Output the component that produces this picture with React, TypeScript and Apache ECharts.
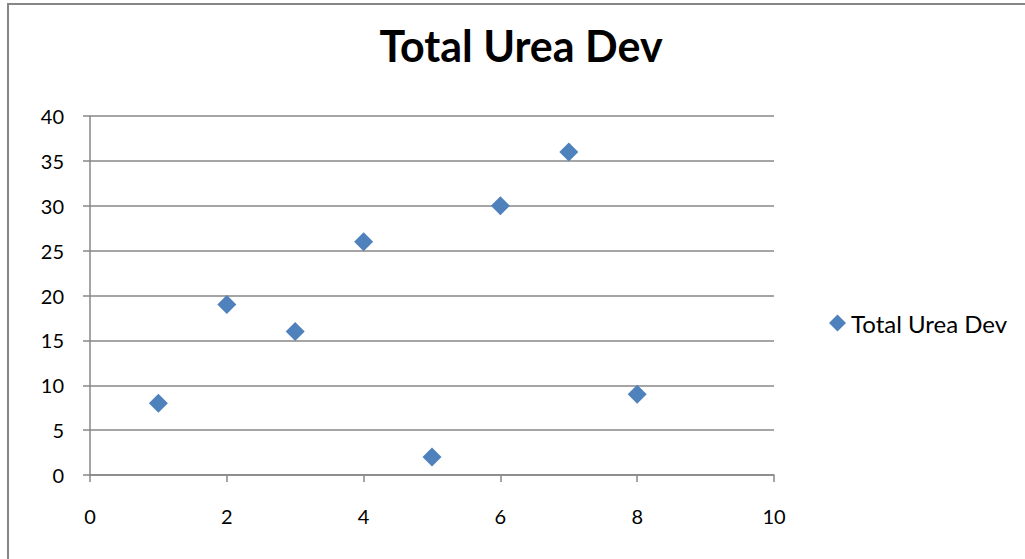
import React, { useEffect, useRef } from "react";
import * as echarts from "echarts";

const titleText = "Total Urea Dev";
const seriesName = "Total Urea Dev";
const xValues = [1, 2, 3, 4, 5, 6, 7, 8];
const yValues = [8, 19, 16, 26, 2, 30, 36, 9];
const xTicks = [0, 2, 4, 6, 8, 10];
const yTicks = [0, 5, 10, 15, 20, 25, 30, 35, 40];

export default function App() {
  const ref = useRef<HTMLDivElement>(null);
  useEffect(() => {
    if (!ref.current) return;
    const chart = echarts.init(ref.current, undefined, { renderer: "svg" });
    const font = "Lato, 'Open Sans', sans-serif";
    const gridColor = "#878787";
    chart.setOption({
      animation: false,
      backgroundColor: "#ffffff",
      textStyle: { fontFamily: font },
      title: {
        text: titleText,
        left: 521,
        top: 24,
        padding: 0,
        textAlign: "center",
        textStyle: { fontFamily: font, fontWeight: "bold", fontSize: 43, color: "#000" },
      },
      legend: {
        orient: "vertical",
        left: 829,
        top: 311,
        padding: 0,
        icon: "diamond",
        itemWidth: 17,
        itemHeight: 17,
        itemStyle: { opacity: 1 },
        textStyle: { fontFamily: font, fontSize: 24, color: "#000" },
        data: [seriesName],
      },
      grid: { left: 90, right: 251, top: 116, bottom: 84 },
      xAxis: {
        type: "value",
        min: xTicks[0],
        max: xTicks[xTicks.length - 1],
        interval: xTicks[1] - xTicks[0],
        axisLine: { show: true, onZero: false, lineStyle: { color: gridColor, width: 1.5 } },
        axisTick: { show: true, length: 7, lineStyle: { color: gridColor, width: 1.5 } },
        splitLine: { show: false },
        axisLabel: { color: "#000", fontSize: 20, fontFamily: font, margin: 31 },
      },
      yAxis: {
        type: "value",
        min: yTicks[0],
        max: yTicks[yTicks.length - 1],
        interval: yTicks[1] - yTicks[0],
        axisLine: { show: true, onZero: false, lineStyle: { color: gridColor, width: 1.5 } },
        axisTick: { show: true, length: 7, lineStyle: { color: gridColor, width: 1.5 } },
        splitLine: { show: true, lineStyle: { color: gridColor, width: 1.5 } },
        axisLabel: { color: "#000", fontSize: 20, fontFamily: font, margin: 26 },
      },
      series: [
        {
          name: seriesName,
          type: "scatter",
          symbol: "diamond",
          symbolSize: 19,
          itemStyle: { color: "#4f81bd", opacity: 1 },
          data: xValues.map((x, i) => [x, yValues[i]]),
        },
      ],
      graphic: [
        {
          type: "rect",
          shape: { x: 8, y: 4, width: 1200, height: 800 },
          style: { fill: "none", stroke: "#868686", lineWidth: 2 },
          silent: true,
        },
      ],
    });
    return () => chart.dispose();
  }, []);
  return (
    <div
      ref={ref}
      style={{ position: "fixed", left: 0, top: 0, width: 1025, height: 559 }}
    />
  );
}
